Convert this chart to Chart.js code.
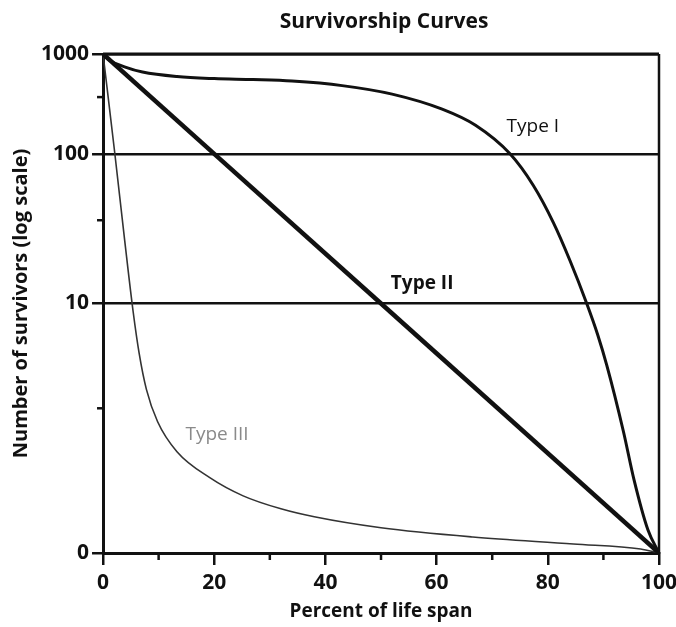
<!DOCTYPE html>
<html>
<head>
<meta charset="utf-8">
<script src="https://cdn.jsdelivr.net/npm/chart.js@4.4.1/dist/chart.umd.min.js"></script>
<style>
  body { margin: 0; background: #fff; }
  #wrap { width: 676px; height: 627px; }
</style>
</head>
<body>
<div id="wrap"><canvas id="grafico"></canvas></div>
<script>
// percent of life span / number of survivors
const typeIAge = [0, 1.1, 4, 7.1, 13.3, 20, 27, 34, 43, 52, 61, 67, 73.2, 77.4, 81, 84, 87, 89, 90.6, 93.6, 95.5, 98, 100];
const typeISurvivors = [1000, 870, 739, 659, 594, 567, 554, 535, 482, 396, 280, 193, 100, 61.4, 34.7, 19.3, 10, 8.73, 7.53, 4.87, 2.94, 0.93, 0];

const typeIIAge = [0, 20, 50, 100];
const typeIISurvivors = [1000, 100, 10, 0];

const typeIIIAge = [0, 2.1, 3.9, 5.4, 6.5, 7.8, 9.8, 13.3, 19.2, 25.2, 32, 38, 50, 66.5, 84.6, 96.7, 100];
const typeIIISurvivors = [1000, 103, 26.3, 9.7, 8.0, 6.56, 5.27, 4.06, 3.02, 2.29, 1.77, 1.45, 1.01, 0.64, 0.36, 0.16, 0];

const xTicks = [0, 20, 40, 60, 80, 100];
const xMinorTicks = [10, 30, 50, 70, 90];
const yTicks = [0, 10, 100, 1000];
const yTickLabels = ['0', '10', '100', '1000'];
const yMinorTicks = [370, 36, 5.8];

// the printed axis is not a true log axis: 0-10 takes half the height,
// 10-100 and 100-1000 share the rest unevenly
function toAxis(v) {
  if (v >= 100) return 80 + 20 * Math.log10(v / 100);
  if (v >= 10) return 50 + 30 * Math.log10(v / 10);
  return v * 5;
}

function pontos(ages, vals) {
  return ages.map((a, i) => ({ x: a, y: toAxis(vals[i]) }));
}

const fonte = '"Open Sans", "Noto Sans", sans-serif';

const extras = {
  id: 'extras',
  afterDraw(chart) {
    const { ctx, chartArea: a, scales } = chart;
    const x = scales.x, y = scales.y;
    ctx.save();
    ctx.strokeStyle = '#111';
    // top and right side of the box
    ctx.lineWidth = 3;
    ctx.beginPath();
    ctx.moveTo(a.left, a.top);
    ctx.lineTo(a.right, a.top);
    ctx.stroke();
    ctx.lineWidth = 2.5;
    ctx.beginPath();
    ctx.moveTo(a.right, a.top);
    ctx.lineTo(a.right, a.bottom + 1);
    ctx.stroke();

    // minor ticks
    ctx.lineWidth = 2.5;
    xMinorTicks.forEach(t => {
      const px = x.getPixelForValue(t);
      ctx.beginPath();
      ctx.moveTo(px, a.bottom);
      ctx.lineTo(px, a.bottom + 7);
      ctx.stroke();
    });
    yMinorTicks.forEach(t => {
      const py = y.getPixelForValue(toAxis(t));
      ctx.beginPath();
      ctx.moveTo(a.left - 6, py);
      ctx.lineTo(a.left, py);
      ctx.stroke();
    });

    // title
    ctx.fillStyle = '#111';
    ctx.textAlign = 'center';
    ctx.textBaseline = 'middle';
    ctx.font = 'bold 21px ' + fonte;
    ctx.fillText('Survivorship Curves', (a.left + a.right) / 2 + 3, 22);

    // curve names
    ctx.font = '19px ' + fonte;
    ctx.fillText('Type I', x.getPixelForValue(77.3), y.getPixelForValue(toAxis(188)));
    ctx.font = 'bold 19px ' + fonte;
    ctx.fillText('Type II', x.getPixelForValue(57.4), y.getPixelForValue(toAxis(13.5)));
    ctx.fillStyle = '#8a8a8a';
    ctx.font = '19px ' + fonte;
    ctx.fillText('Type III', x.getPixelForValue(20.5), y.getPixelForValue(toAxis(4.75)));
    ctx.restore();
  }
};

const ctx = document.getElementById('grafico').getContext('2d');

const grafico = new Chart(ctx, {
  type: 'line',
  data: {
    datasets: [
      {
        label: 'Type I',
        data: pontos(typeIAge, typeISurvivors),
        borderColor: '#111',
        borderWidth: 3,
        pointRadius: 0,
        cubicInterpolationMode: 'monotone'
      },
      {
        label: 'Type II',
        data: pontos(typeIIAge, typeIISurvivors),
        borderColor: '#111',
        borderWidth: 4.5,
        pointRadius: 0,
        tension: 0
      },
      {
        label: 'Type III',
        data: pontos(typeIIIAge, typeIIISurvivors),
        borderColor: '#333',
        borderWidth: 1.6,
        pointRadius: 0,
        cubicInterpolationMode: 'monotone'
      }
    ]
  },
  options: {
    responsive: true,
    maintainAspectRatio: false,
    animation: false,
    layout: {
      padding: { top: 54, right: 17, left: 3, bottom: 0 }
    },
    plugins: {
      legend: { display: false },
      tooltip: { enabled: false }
    },
    scales: {
      x: {
        type: 'linear',
        min: 0,
        max: 100,
        afterBuildTicks: (scale) => { scale.ticks = xTicks.map(v => ({ value: v })); },
        afterFit: (scale) => { scale.paddingRight = 7; }, // let "100" hang over the edge a bit
        ticks: {
          color: '#111',
          font: { family: fonte, size: 21, weight: '700' },
          padding: 5
        },
        grid: {
          drawOnChartArea: false, // so the ticks below the axis
          color: '#111',
          lineWidth: 2.5,
          tickLength: 12
        },
        border: { color: '#111', width: 3 },
        title: {
          display: true,
          text: 'Percent of life span',
          color: '#111',
          font: { family: fonte, size: 19, weight: '700' },
          padding: { top: 0, bottom: 4 }
        }
      },
      y: {
        type: 'linear',
        min: 0,
        max: 100,
        afterBuildTicks: (scale) => { scale.ticks = yTicks.map(v => ({ value: toAxis(v) })); },
        ticks: {
          color: '#111',
          font: { family: fonte, size: 21, weight: '700' },
          padding: 3,
          callback: (val, i) => yTickLabels[i]
        },
        grid: {
          color: '#111',
          lineWidth: 2.5,
          tickLength: 11
        },
        border: { color: '#111', width: 3 },
        title: {
          display: true,
          text: 'Number of survivors (log scale)',
          color: '#111',
          font: { family: fonte, size: 20, weight: '700' },
          padding: { top: 6, bottom: 5 }
        }
      }
    }
  },
  plugins: [extras]
});
</script>
</body>
</html>
